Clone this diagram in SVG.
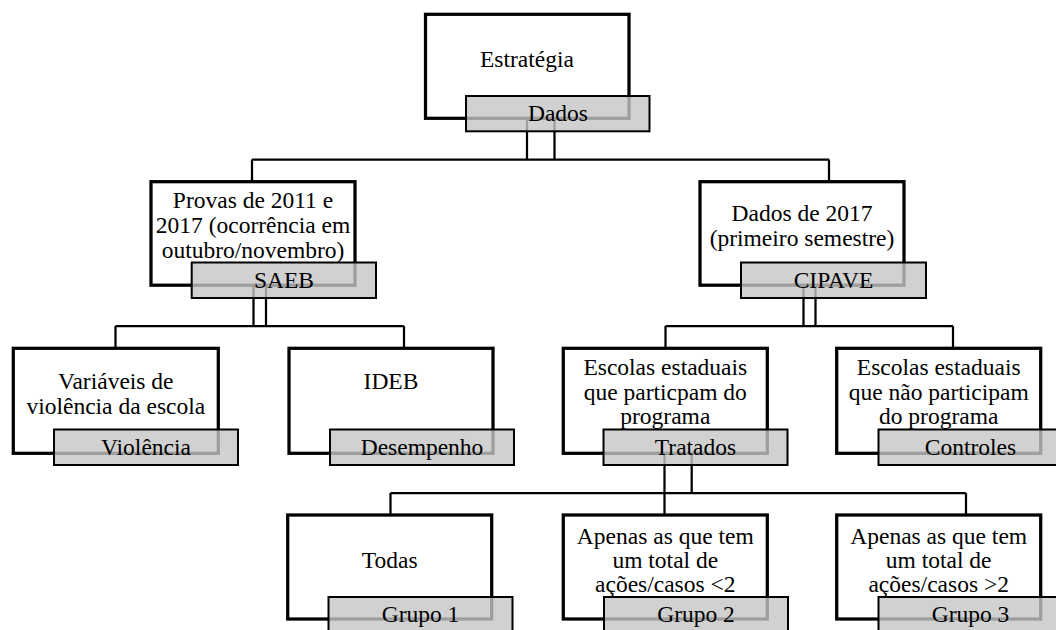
<svg xmlns="http://www.w3.org/2000/svg" width="1056" height="630" viewBox="0 0 1056 630">
<style>
.box{fill:#ffffff;stroke:#000000;stroke-width:3.25}
.lab{fill:#c6c6c6;fill-opacity:0.8;stroke:#000000;stroke-width:2}
.t{font-family:"Liberation Serif","Times New Roman",serif;font-size:23.5px;fill:#000000;text-anchor:middle}
.c{fill:none;stroke:#000000;stroke-width:2.25}
</style>
<rect width="1056" height="630" fill="#ffffff"/>
<g id="connectors" class="c">
<path d="M527,118 V159.5 M554.5,118 V159.5 M252,159.5 H829 M252,159.5 V181.7 M829,159.5 V181.7"/>
<path d="M253.5,285 V326 M266,285 V326 M115.5,326 H404 M115.5,326 V348.3 M404,326 V348.3"/>
<path d="M803.5,285 V326 M815.5,285 V326 M665.5,326 H953 M665.5,326 V348.3 M953,326 V348.3"/>
<path d="M664.5,453 V515 M691.7,453 V493 M390.5,493 H966 M390.5,493 V515 M966,493 V515"/>
</g>
<g id="estrategia">
<rect class="box" x="425.5" y="14.3" width="203.5" height="104"/>
<text class="t" x="527" y="67">Estratégia</text>
<rect class="lab" x="466" y="96" width="183.5" height="35.3"/>
<text class="t" x="558" y="121">Dados</text>
</g>
<g id="saeb">
<rect class="box" x="151" y="181.7" width="204" height="103.5"/>
<text class="t" x="253" y="208.3">Provas de 2011 e</text>
<text class="t" x="253" y="233">2017 (ocorrência em</text>
<text class="t" x="253" y="257.5">outubro/novembro)</text>
<rect class="lab" x="191.7" y="262.5" width="184.3" height="35.5"/>
<text class="t" x="284" y="288">SAEB</text>
</g>
<g id="cipave">
<rect class="box" x="700" y="181.7" width="204" height="103.5"/>
<text class="t" x="802" y="220.7">Dados de 2017</text>
<text class="t" x="802" y="246">(primeiro semestre)</text>
<rect class="lab" x="741" y="262.5" width="185" height="35.5"/>
<text class="t" x="833.5" y="288">CIPAVE</text>
</g>
<g id="violencia">
<rect class="box" x="13.3" y="348.3" width="205" height="105"/>
<text class="t" x="115.8" y="388.5">Variáveis de</text>
<text class="t" x="115.8" y="414">violência da escola</text>
<rect class="lab" x="54" y="429.5" width="184" height="35.5"/>
<text class="t" x="146" y="455">Violência</text>
</g>
<g id="desempenho">
<rect class="box" x="289" y="348.3" width="204" height="105"/>
<text class="t" x="391" y="389">IDEB</text>
<rect class="lab" x="330" y="429.5" width="184" height="35.5"/>
<text class="t" x="422" y="455">Desempenho</text>
</g>
<g id="tratados">
<rect class="box" x="563.3" y="348.3" width="204" height="105"/>
<text class="t" x="665.3" y="375">Escolas estaduais</text>
<text class="t" x="665.3" y="400">que particpam do</text>
<text class="t" x="665.3" y="424">programa</text>
<rect class="lab" x="603.5" y="429.5" width="184" height="35.5"/>
<text class="t" x="695.5" y="455">Tratados</text>
</g>
<g id="controles">
<rect class="box" x="836.7" y="348.3" width="204" height="105"/>
<text class="t" x="938.7" y="375">Escolas estaduais</text>
<text class="t" x="938.7" y="400">que não participam</text>
<text class="t" x="938.7" y="424">do programa</text>
<rect class="lab" x="878.5" y="429.5" width="184" height="35.5"/>
<text class="t" x="970.5" y="455">Controles</text>
</g>
<g id="grupo1">
<rect class="box" x="287.7" y="515" width="204" height="104"/>
<text class="t" x="389.7" y="568">Todas</text>
<rect class="lab" x="328.5" y="597" width="184" height="35.5"/>
<text class="t" x="420.5" y="622">Grupo 1</text>
</g>
<g id="grupo2">
<rect class="box" x="563.3" y="515" width="204" height="104"/>
<text class="t" x="665.3" y="544">Apenas as que tem</text>
<text class="t" x="665.3" y="568">um total de</text>
<text class="t" x="665.3" y="592">ações/casos &lt;2</text>
<rect class="lab" x="604" y="597" width="184" height="35.5"/>
<text class="t" x="696" y="622">Grupo 2</text>
</g>
<g id="grupo3">
<rect class="box" x="836.7" y="515" width="204" height="104"/>
<text class="t" x="938.7" y="544">Apenas as que tem</text>
<text class="t" x="938.7" y="568">um total de</text>
<text class="t" x="938.7" y="592">ações/casos &gt;2</text>
<rect class="lab" x="878.5" y="597" width="184" height="35.5"/>
<text class="t" x="970.5" y="622">Grupo 3</text>
</g>
</svg>
